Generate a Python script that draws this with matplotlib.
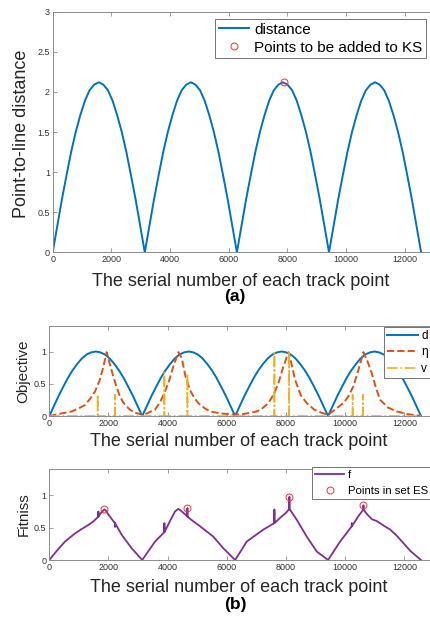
import matplotlib
matplotlib.use("Agg")
import matplotlib.pyplot as plt
import numpy as np

plt.rcParams["font.family"] = ["Liberation Sans", "DejaVu Sans"]

BLUE = "#0072BD"
ORANGE = "#D95319"
YELLOW = "#EDB120"
PURPLE = "#7E2F8E"
RED = "#FF3030"

# (a) point-to-line distance, sampled every 157 track points
dist_x = np.arange(0, 12561, 157)
dist_y = [
    0, 0.33, 0.66, 0.96, 1.25, 1.50, 1.71, 1.89, 2.02, 2.09, 2.12,
    2.09, 2.02, 1.89, 1.71, 1.50, 1.25, 0.96, 0.66, 0.33, 0,
    0.33, 0.66, 0.96, 1.25, 1.50, 1.71, 1.89, 2.02, 2.09, 2.12,
    2.09, 2.02, 1.89, 1.71, 1.50, 1.25, 0.96, 0.66, 0.33, 0,
    0.33, 0.66, 0.96, 1.25, 1.50, 1.71, 1.89, 2.02, 2.09, 2.12,
    2.09, 2.02, 1.89, 1.71, 1.50, 1.25, 0.96, 0.66, 0.33, 0,
    0.33, 0.66, 0.96, 1.25, 1.50, 1.71, 1.89, 2.02, 2.09, 2.12,
    2.09, 2.02, 1.89, 1.71, 1.50, 1.25, 0.96, 0.66, 0.33, 0,
]
ks_x = [7872]
ks_y = [2.12]

# (b) objectives
eta_x = [0, 300, 757, 1000, 1207, 1400, 1545, 1700, 1820, 1940, 2050, 2164,
         2280, 2390, 2500, 2617, 2750, 2897, 3140,
         3300, 3574, 3750, 3911, 4050, 4200, 4361, 4475, 4600, 4757, 4900,
         5037, 5250, 5433, 5800, 6280,
         6558, 7011, 7200, 7404, 7600, 7742, 7900, 8081, 8200, 8306, 8500,
         8702, 8950, 9200, 9420,
         9601, 9939, 10100, 10277, 10450, 10616, 10750, 10899, 11050, 11180,
         11450, 11744, 12100, 12560]
eta_y = [0.0, 0.03, 0.07, 0.12, 0.17, 0.28, 0.38, 0.55, 0.75, 0.99, 0.80, 0.61,
         0.44, 0.30, 0.21, 0.145, 0.09, 0.05, 0.02,
         0.04, 0.10, 0.22, 0.38, 0.55, 0.78, 0.99, 0.90, 0.62, 0.40, 0.28,
         0.20, 0.12, 0.07, 0.04, 0.02,
         0.03, 0.07, 0.12, 0.20, 0.35, 0.51, 0.75, 0.99, 0.78, 0.56, 0.32,
         0.20, 0.10, 0.05, 0.02,
         0.08, 0.20, 0.30, 0.46, 0.72, 0.99, 0.85, 0.66, 0.42, 0.25,
         0.13, 0.07, 0.03, 0.0]

v_spike_x = [1635, 2221, 3889, 4667, 7607, 8103, 10250, 10600]
v_spike_h = [0.33, 0.33, 0.67, 0.66, 0.98, 1.0, 0.33, 0.33]

fit_x = [0, 250, 531, 869, 1100, 1319, 1500, 1657, 1658, 1659, 1750, 1860, 1900,
         2000, 2164, 2219, 2220, 2221, 2446, 2785, 3140,
         3574, 3888, 3889, 3890, 4100, 4250, 4361, 4450, 4600, 4666, 4667, 4668,
         4800, 5095, 5545, 5883, 6280,
         6673, 7235, 7606, 7607, 7608, 7800, 8000, 8113, 8114, 8115, 8364,
         8702, 9040, 9420,
         9827, 10221, 10222, 10223, 10450, 10615, 10616, 10617, 10750, 10900,
         11068, 11300, 11518, 11750, 11968, 12200, 12560]
fit_y = [0, 0.14, 0.285, 0.41, 0.48, 0.54, 0.60, 0.67, 0.75, 0.67, 0.73, 0.78, 0.77,
         0.70, 0.60, 0.57, 0.51, 0.57, 0.39, 0.18, 0,
         0.285, 0.43, 0.57, 0.43, 0.62, 0.75, 0.79, 0.76, 0.70, 0.67, 0.80, 0.67,
         0.62, 0.52, 0.36, 0.18, 0,
         0.285, 0.47, 0.57, 0.78, 0.57, 0.65, 0.73, 0.79, 0.975, 0.79, 0.62,
         0.36, 0.13, 0,
         0.285, 0.52, 0.57, 0.52, 0.68, 0.78, 0.845, 0.78, 0.70, 0.63,
         0.60, 0.53, 0.47, 0.37, 0.26, 0.14, 0]
es_x = [1860, 4667, 8114, 10616]
es_y = [0.78, 0.80, 0.975, 0.845]

xticks = [0, 2000, 4000, 6000, 8000, 10000, 12000]


def style_axes(ax, ylim, yticks):
    ax.set_xlim(0, 13000)
    ax.set_ylim(*ylim)
    ax.set_xticks(xticks)
    ax.set_yticks(yticks)
    ax.set_yticklabels([("%g" % t) for t in yticks])
    ax.tick_params(direction="in", length=3, width=0.6, colors="0.55",
                   labelcolor="0.2", labelsize=6.5, top=True, right=True, pad=2)
    for s in ax.spines.values():
        s.set_color("0.55")
        s.set_linewidth(0.7)


def add_legend(ax, anchor, size, hlen, spacing):
    leg = fig.legend(*ax.get_legend_handles_labels(), loc="upper right",
                     bbox_to_anchor=anchor, borderaxespad=0, fontsize=size,
                     fancybox=False, edgecolor="0.45", framealpha=1,
                     handlelength=hlen, handletextpad=0.3, borderpad=0.25,
                     labelspacing=spacing)
    leg.get_frame().set_linewidth(0.7)
    return leg


fig = plt.figure(figsize=(4.31, 6.2), dpi=100)
W, H = 431.0, 620.0

# (a)
ax1 = fig.add_axes([52.7 / W, 1 - 252.3 / H, 381.3 / W, 240.6 / H])
ax1.plot(dist_x, dist_y, color=BLUE, lw=1.4, label="distance")
ax1.plot(ks_x, ks_y, "o", ms=5, mfc="none", mec=RED, mew=0.7,
         label="Points to be added to KS")
style_axes(ax1, (0, 3), [0, 0.5, 1, 1.5, 2, 2.5, 3])
add_legend(ax1, (426 / W, 1 - 19 / H), 11, 2.0, 0.25)

# (b) objectives
d_norm = np.array(dist_y) / max(dist_y)
v_x = [0]
v_y = [0]
for sx, sh in zip(v_spike_x, v_spike_h):
    v_x += [sx - 1, sx, sx + 1]
    v_y += [0, sh, 0]
v_x.append(12560)
v_y.append(0)

ax2 = fig.add_axes([49.3 / W, 1 - 416 / H, 384.7 / W, 90.3 / H])
ax2.plot(dist_x, d_norm, color=BLUE, lw=1.4, label="d")
ax2.plot(eta_x, eta_y, "--", color=ORANGE, lw=1.4, label="η")
ax2.plot(v_x, v_y, "-.", color=YELLOW, lw=1.2, label="v")
style_axes(ax2, (0, 1.4), [0, 0.5, 1])
add_legend(ax2, (431 / W, 1 - 327 / H), 8.5, 2.6, 0.38)

# (b) fitness
ax3 = fig.add_axes([49.3 / W, 1 - 560 / H, 384.7 / W, 90.7 / H])
ax3.plot(fit_x, fit_y, color=PURPLE, lw=1.3, label="f")
ax3.plot(es_x, es_y, "o", ms=5, mfc="none", mec=RED, mew=0.7,
         label="Points in set ES")
style_axes(ax3, (0, 1.4), [0, 0.5, 1])
add_legend(ax3, (431 / W, 1 - 467 / H), 8.2, 2.6, 0.55)

# labels
xlab = "The serial number of each track point"
fig.text(241 / W, 1 - 281 / H, xlab, ha="center", va="center", fontsize=13, color="0.15")
fig.text(235 / W, 1 - 296 / H, "(a)", ha="center", va="center", fontsize=12.5,
         fontweight="bold")
fig.text(22 / W, 1 - 134 / H, "Point-to-line distance", rotation=90, ha="center",
         va="center", fontsize=13, color="0.15")

fig.text(239 / W, 1 - 442 / H, xlab, ha="center", va="center", fontsize=13, color="0.15")
fig.text(23.5 / W, 1 - 371 / H, "Objective", rotation=90, ha="center", va="center",
         fontsize=11, color="0.15")

fig.text(239 / W, 1 - 587 / H, xlab, ha="center", va="center", fontsize=13, color="0.15")
fig.text(24 / W, 1 - 514 / H, "Fitniss", rotation=90, ha="center", va="center",
         fontsize=11, color="0.15")
fig.text(235 / W, 1 - 604 / H, "(b)", ha="center", va="center", fontsize=12.5,
         fontweight="bold")

fig.savefig("out.png", dpi=100)
